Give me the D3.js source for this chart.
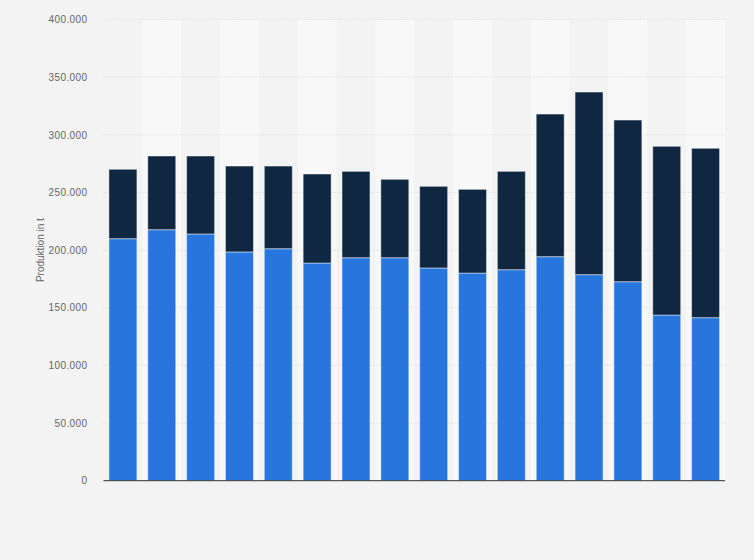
<!DOCTYPE html>
<html><head><meta charset="utf-8">
<script src="https://cdn.jsdelivr.net/npm/d3@7"></script>
<style>
html,body{margin:0;padding:0;background:#f3f3f3;}
svg{display:block;font-family:"Liberation Sans",Arial,sans-serif;}
</style></head>
<body><svg id="chart" width="754" height="560"></svg>
<script>
const categories = ["1","2","3","4","5","6","7","8","9","10","11","12","13","14","15","16"];
const seriesNames = ["Serie A","Serie B"];
const totals = [270.1,281.6,281.6,272.9,272.9,266.0,268.3,261.4,255.3,252.7,268.3,318.0,337.1,312.8,290.0,288.3];
const lower  = [209.9,217.7,214.0,198.4,201.2,188.8,193.4,193.4,184.5,180.1,183.0,194.3,178.7,172.6,143.7,141.4];
const upper  = totals.map((t,i)=> +(t - lower[i]).toFixed(1));
const yTicks = [0,50,100,150,200,250,300,350,400];
const yTitle = "Produktion in t";

const svg = d3.select("#chart");
const m = {left:103.5, right:754-725, top:19.5, bottom:560-480.7};
const W = 754, H = 560;
const x = d3.scaleBand().domain(categories).range([m.left, W-m.right]).paddingInner(0.28).paddingOuter(0.14);
const xb = d3.scaleBand().domain(categories).range([m.left, W-m.right]).padding(0);
const y = d3.scaleLinear().domain([0,400]).range([H-m.bottom, m.top]);

// alternating bands
svg.append("g").selectAll("rect").data(categories).join("rect")
  .attr("x", d=>xb(d)).attr("width", xb.bandwidth())
  .attr("y", y(400)).attr("height", y(0)-y(400))
  .attr("fill", (d,i)=> i%2 ? "#f8f8f8" : "#f3f3f3");

// gridlines
svg.append("g").selectAll("line").data(yTicks.filter(t=>t>0)).join("line")
  .attr("x1", m.left).attr("x2", W-m.right)
  .attr("y1", d=>y(d)).attr("y2", d=>y(d))
  .attr("stroke", "#d9d9d9").attr("stroke-width", 1).attr("stroke-dasharray", "1,2");

// y axis labels
const fmt = d => d===0 ? "0" : d3.format(",")(d*1000).replace(/,/g,".");
const yAxis = d3.axisLeft(y).tickValues(yTicks).tickFormat(fmt).tickSize(0).tickPadding(16);
const ga = svg.append("g").attr("transform", `translate(${m.left},0)`).call(yAxis);
ga.select(".domain").remove();
ga.selectAll("text").attr("fill","#666").style("font-size","10px").style("letter-spacing","0.4px")
  .style("font-family","'Liberation Sans',Arial,sans-serif");

// stacked bars
const data = categories.map((c,i)=>({c, a:lower[i], b:upper[i]}));
const stack = d3.stack().keys(["a","b"])(data);
const colors = ["#2876dd","#0f2740"];
svg.append("g").selectAll("g").data(stack).join("g")
  .attr("fill", (d,i)=>colors[i])
  .selectAll("rect").data(d=>d).join("rect")
  .attr("x", d=>x(d.data.c)).attr("width", x.bandwidth())
  .attr("y", d=>y(d[1])).attr("height", d=>y(d[0])-y(d[1]))
  .attr("stroke","rgba(255,255,255,0.45)").attr("stroke-width",1);

// baseline
svg.append("line").attr("x1", m.left).attr("x2", W-m.right)
  .attr("y1", y(0)).attr("y2", y(0)).attr("stroke","#333").attr("stroke-width",1);

// y title
svg.append("text").attr("transform", `translate(44,${(y(0)+y(400))/2}) rotate(-90)`)
  .attr("text-anchor","middle").attr("fill","#666").style("font-size","10px")
  .text(yTitle);
</script></body></html>
